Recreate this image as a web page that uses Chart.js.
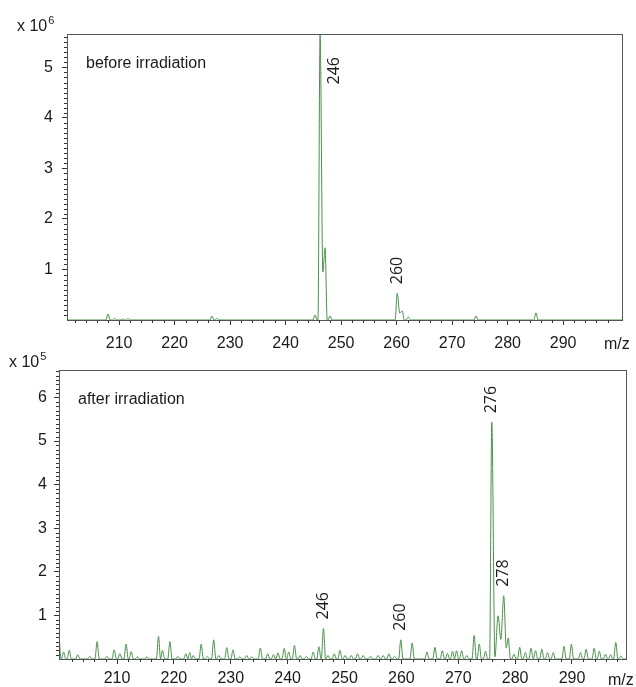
<!DOCTYPE html>
<html>
<head>
<meta charset="utf-8">
<script src="https://cdn.jsdelivr.net/npm/chart.js@4.4.0/dist/chart.umd.min.js"></script>
<style>
  body { margin: 0; background: #fff; }
  #wrap { position: relative; width: 636px; height: 687px; }
  canvas { position: absolute; left: 0; }
</style>
</head>
<body>
<div id="wrap">
  <canvas id="before" width="636" height="352" style="top:0"></canvas>
  <canvas id="after" width="636" height="335" style="top:352px"></canvas>
</div>
<script>
// before irradiation: peak apexes / valleys (m/z, intensity x 10^6)
const beforeMz  = [208.0, 209.2, 210.6, 211.6, 226.7, 227.6, 245.3, 246.2, 246.7, 247.1, 248.0,
                   260.1, 260.55, 261.0, 262.1, 274.3, 285.1];
const beforeInt = [0.12, 0.03, 0.02, 0.03, 0.08, 0.03, 0.10, 5.66, 0.95, 1.43, 0.08,
                   0.53, 0.14, 0.18, 0.06, 0.08, 0.14];
const beforeLabelMz = [246.2, 260.1];
const beforeLabels  = ['246', '260'];
const beforeYTicks  = [1, 2, 3, 4, 5];

// after irradiation: peak apexes / valleys (m/z, intensity x 10^5)
const afterMz  = [199.8, 200.6, 201.6, 203.1, 205.2, 206.5, 208.2, 209.5, 210.5, 211.6, 212.5,
                  213.6, 215.2, 217.3, 218.0, 219.3, 220.7, 222.1, 222.8, 223.4, 224.8, 225.9,
                  227.0, 227.9, 229.3, 230.4, 231.6, 232.8, 233.7, 235.2, 236.5, 237.5, 238.3,
                  239.4, 240.2, 241.2, 242.2, 243.3, 244.5, 245.5, 246.3, 247.1, 248.2, 249.2,
                  250.1, 251.2, 252.3, 253.3, 254.6, 255.9, 256.8, 257.8, 258.8, 259.9, 261.9,
                  264.5, 265.9, 267.2, 268.1, 269.0, 269.7, 270.6, 271.5, 272.8, 273.7, 274.8,
                  275.9, 276.45, 277.0, 277.5, 278.0, 278.45, 278.8, 279.8, 280.8, 281.8, 282.8,
                  283.6, 284.7, 285.7, 286.7, 288.6, 289.9, 291.5, 292.5, 293.9, 294.8, 295.9,
                  296.8, 297.7, 298.6];
const afterInt = [0.54, 0.16, 0.20, 0.10, 0.06, 0.40, 0.06, 0.21, 0.12, 0.34, 0.17,
                  0.05, 0.05, 0.52, 0.20, 0.40, 0.06, 0.12, 0.15, 0.08, 0.34, 0.06,
                  0.44, 0.08, 0.26, 0.21, 0.05, 0.08, 0.05, 0.25, 0.12, 0.10, 0.14,
                  0.24, 0.16, 0.31, 0.08, 0.06, 0.16, 0.28, 0.70, 0.08, 0.12, 0.20,
                  0.08, 0.08, 0.12, 0.08, 0.06, 0.08, 0.08, 0.12, 0.06, 0.44, 0.37,
                  0.16, 0.27, 0.19, 0.13, 0.18, 0.19, 0.19, 0.08, 0.54, 0.34, 0.18,
                  5.43, 0.05, 0.99, 0.45, 1.45, 0.25, 0.48, 0.11, 0.27, 0.15, 0.25,
                  0.19, 0.23, 0.15, 0.15, 0.29, 0.34, 0.15, 0.23, 0.25, 0.18, 0.11,
                  0.10, 0.38, 0.07];
const afterLabelMz = [246.3, 259.9, 275.9, 278.0];
const afterLabels  = ['246', '260', '276', '278'];
const afterYTicks  = [1, 2, 3, 4, 5, 6];

const xTicks = [210, 220, 230, 240, 250, 260, 270, 280, 290];

const HALF_WIDTH = 0.38;
const LINE_COLOR = '#4a914a';
const TEXT_COLOR = '#1a1a1a';
const SANS = '"Liberation Sans", Arial, sans-serif';

// Turn the apex list into a profile: drop to the baseline between separated peaks
function buildProfile(mz, inten, xMin, xMax) {
  const pts = [];
  const add = (x, y) => { if (x >= xMin && x <= xMax) pts.push({ x, y }); };
  if (mz[0] - HALF_WIDTH > xMin) add(xMin, 0);
  add(mz[0] - HALF_WIDTH, 0);
  for (let i = 0; i < mz.length; i++) {
    add(mz[i], inten[i]);
    if (i === mz.length - 1) break;
    const gap = mz[i + 1] - mz[i];
    if (gap > 2 * HALF_WIDTH) {
      add(mz[i] + HALF_WIDTH, 0);
      add(mz[i + 1] - HALF_WIDTH, 0);
    } else if (gap > 0.56) {
      add(mz[i] + gap / 2, 0);
    }
  }
  const last = mz[mz.length - 1];
  add(last + HALF_WIDTH, 0);
  if (last + HALF_WIDTH < xMax) add(xMax, 0);
  return pts;
}

// Frame, minor ticks, exponent, caption, m/z and peak labels
const decorPlugin = {
  id: 'decor',
  afterDraw(chart, args, o) {
    const { ctx, chartArea: a } = chart;
    const x = chart.scales.x, y = chart.scales.y;
    ctx.save();
    ctx.strokeStyle = '#555';
    ctx.lineWidth = 1;
    ctx.strokeRect(Math.round(a.left) + 0.5, Math.round(a.top) + 0.5,
                   Math.round(a.right - a.left), Math.round(a.bottom - a.top));

    ctx.strokeStyle = '#333';
    ctx.beginPath();
    for (let v = Math.ceil(x.min / 2) * 2; v <= x.max; v += 2) {
      if (v % 10 === 0) continue;
      const px = Math.round(x.getPixelForValue(v)) + 0.5;
      ctx.moveTo(px, a.bottom);
      ctx.lineTo(px, a.bottom + 3);
    }
    for (let k = 1; k / 10 <= y.max; k++) {
      if (k % 10 === 0) continue;
      const py = Math.round(y.getPixelForValue(k / 10)) + 0.5;
      ctx.moveTo(a.left, py);
      ctx.lineTo(a.left - 3, py);
    }
    ctx.stroke();

    ctx.fillStyle = TEXT_COLOR;
    ctx.textAlign = 'left';
    ctx.textBaseline = 'alphabetic';
    ctx.font = '16px ' + SANS;
    const baseX = a.left - 50, baseY = a.top - 3;
    ctx.fillText('x 10', baseX, baseY);
    const w = ctx.measureText('x 10').width;
    ctx.font = '11px ' + SANS;
    ctx.fillText(o.exponent, baseX + w + 1, baseY - 7);

    ctx.font = '16px ' + SANS;
    ctx.fillText(o.caption, a.left + 19, a.top + 34);
    ctx.fillText('m/z', a.right - 18, a.bottom + o.unitOffset);

    ctx.font = '16px "Open Sans", ' + SANS;
    ctx.textBaseline = 'middle';
    o.peakMz.forEach((m, i) => {
      const text = o.peakText[i];
      const tw = ctx.measureText(text).width;
      const px = x.getPixelForValue(m);
      const idx = o.mz.indexOf(m);
      let py = y.getPixelForValue(o.inten[idx]) - 9;
      let lx = px;
      if (py - tw < a.top + 5) {
        lx = px + 14;
        py = a.top + 23 + tw;
      }
      ctx.save();
      ctx.translate(lx, py);
      ctx.rotate(-Math.PI / 2);
      ctx.fillText(text, 0, 0);
      ctx.restore();
    });
    ctx.restore();
  }
};

function makeChart(id, cfg) {
  const font = { family: SANS, size: 16 };
  return new Chart(document.getElementById(id), {
    type: 'line',
    data: {
      datasets: [{
        data: buildProfile(cfg.mz, cfg.inten, cfg.xMin, cfg.xMax),
        borderColor: LINE_COLOR,
        borderWidth: 1,
        pointRadius: 0,
        fill: false,
        cubicInterpolationMode: 'monotone'
      }]
    },
    options: {
      responsive: false,
      animation: false,
      layout: { padding: cfg.padding },
      plugins: {
        legend: { display: false },
        tooltip: { enabled: false },
        decor: {
          exponent: cfg.exponent, caption: cfg.caption, unitOffset: cfg.unitOffset,
          peakMz: cfg.peakMz, peakText: cfg.peakText, mz: cfg.mz, inten: cfg.inten
        }
      },
      scales: {
        x: {
          type: 'linear',
          min: cfg.xMin, max: cfg.xMax,
          afterBuildTicks: s => { s.ticks = xTicks.map(v => ({ value: v })); },
          afterFit: s => { s.height = cfg.xHeight; },
          grid: { drawOnChartArea: false, drawTicks: true, tickLength: 5, tickColor: '#333' },
          border: { display: false },
          ticks: { font, color: TEXT_COLOR, padding: cfg.xPad, autoSkip: false, maxRotation: 0 }
        },
        y: {
          min: 0, max: cfg.yMax,
          afterBuildTicks: s => { s.ticks = cfg.yTicks.map(v => ({ value: v })); },
          afterFit: s => { s.width = cfg.yWidth; },
          grid: { drawOnChartArea: false, drawTicks: true, tickLength: 5, tickColor: '#333' },
          border: { display: false },
          ticks: { font, color: TEXT_COLOR, padding: cfg.yPad }
        }
      }
    },
    plugins: [decorPlugin]
  });
}

makeChart('before', {
  mz: beforeMz, inten: beforeInt, peakMz: beforeLabelMz, peakText: beforeLabels,
  yTicks: beforeYTicks, xMin: 200.6, xMax: 300.6, yMax: 5.66,
  exponent: '6', caption: 'before irradiation',
  padding: { top: 34, right: 14, left: 0, bottom: 0 },
  xHeight: 32, yWidth: 67, xPad: 9, yPad: 9, unitOffset: 29
});

makeChart('after', {
  mz: afterMz, inten: afterInt, peakMz: afterLabelMz, peakText: afterLabels,
  yTicks: afterYTicks, xMin: 199.8, xMax: 299.5, yMax: 6.63,
  exponent: '5', caption: 'after irradiation',
  padding: { top: 18, right: 10, left: 0, bottom: 0 },
  xHeight: 28, yWidth: 59, xPad: 5, yPad: 7, unitOffset: 26
});
</script>
</body>
</html>
